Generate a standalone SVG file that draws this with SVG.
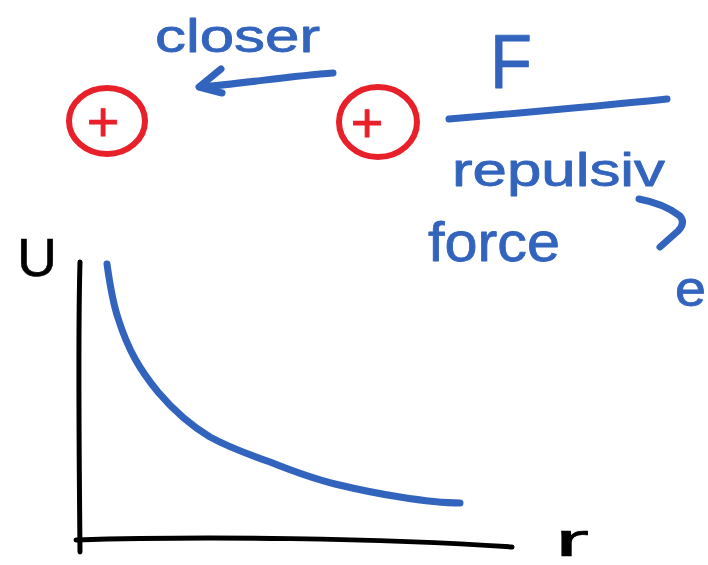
<svg xmlns="http://www.w3.org/2000/svg" width="708" height="565" viewBox="0 0 708 565">
<style>
.blue{fill:#3364bd;stroke:#3364bd;stroke-width:0.8;stroke-linejoin:round;font-family:"Liberation Sans","DejaVu Sans",sans-serif}
.black{fill:#000;stroke:#000;stroke-width:0.6;font-family:"Liberation Sans","DejaVu Sans",sans-serif}
.red{fill:#e8202a;stroke:#e8202a;stroke-width:0.8;font-family:"Liberation Sans","DejaVu Sans",sans-serif}
.bl{fill:none;stroke:#3364bd;stroke-width:7;stroke-linecap:round;stroke-linejoin:round}
.rl{fill:none;stroke:#e8202a;stroke-width:6;stroke-linecap:round}
.kl{fill:none;stroke:#000;stroke-width:5;stroke-linecap:round;stroke-linejoin:round}
</style>
<rect width="708" height="565" fill="#fff"/>
<g id="label-closer"><text class="blue" x="155" y="52" font-size="46" textLength="165" lengthAdjust="spacingAndGlyphs">closer</text></g>
<g id="connectors">
<path class="bl" d="M333 73 C290 76 240 84 200 87"/>
<path class="bl" d="M221 69 L199 87 L222 93"/>
</g>
<g id="charge-left">
<ellipse class="rl" cx="107" cy="121" rx="38" ry="33"/>
<text class="red" x="103" y="141" font-size="56" text-anchor="middle">+</text>
</g>
<g id="charge-right">
<ellipse class="rl" cx="378" cy="122" rx="39" ry="35"/>
<text class="red" x="367" y="142" font-size="56" text-anchor="middle">+</text>
</g>
<g id="fraction">
<text class="blue" x="490" y="88" font-size="76" textLength="42" lengthAdjust="spacingAndGlyphs">F</text>
<path class="bl" d="M449 119 C520 113 600 106 667 99"/>
<text class="blue" x="452" y="186" font-size="46" textLength="213" lengthAdjust="spacingAndGlyphs">repulsiv</text>
<text class="blue" x="428" y="261" font-size="56" textLength="132" lengthAdjust="spacingAndGlyphs">force</text>
<path class="bl" d="M639 199 C655 202 670 208 680 216 C684 221 683 226 678 231 L660 247"/>
<text class="blue" x="675" y="306" font-size="50" textLength="31" lengthAdjust="spacingAndGlyphs">e</text>
</g>
<g id="graph">
<text class="black" x="17" y="276" font-size="54" textLength="40" lengthAdjust="spacingAndGlyphs">U</text>
<path class="kl" d="M80 262 C78 330 79 450 80 552"/>
<path class="kl" d="M76 540 C200 536 380 538 512 547"/>
<path class="bl" d="M107 264 C110 285 112 300 118 318 C128 350 140 370 158 392 C175 412 190 425 210 437 C230 448 250 455 270 462 C295 472 315 479 335 484 C360 490 380 494 400 497 C425 501 445 503 460 503"/>
<text class="black" x="555" y="556" font-size="46" textLength="34" lengthAdjust="spacingAndGlyphs">r</text>
</g>
</svg>
